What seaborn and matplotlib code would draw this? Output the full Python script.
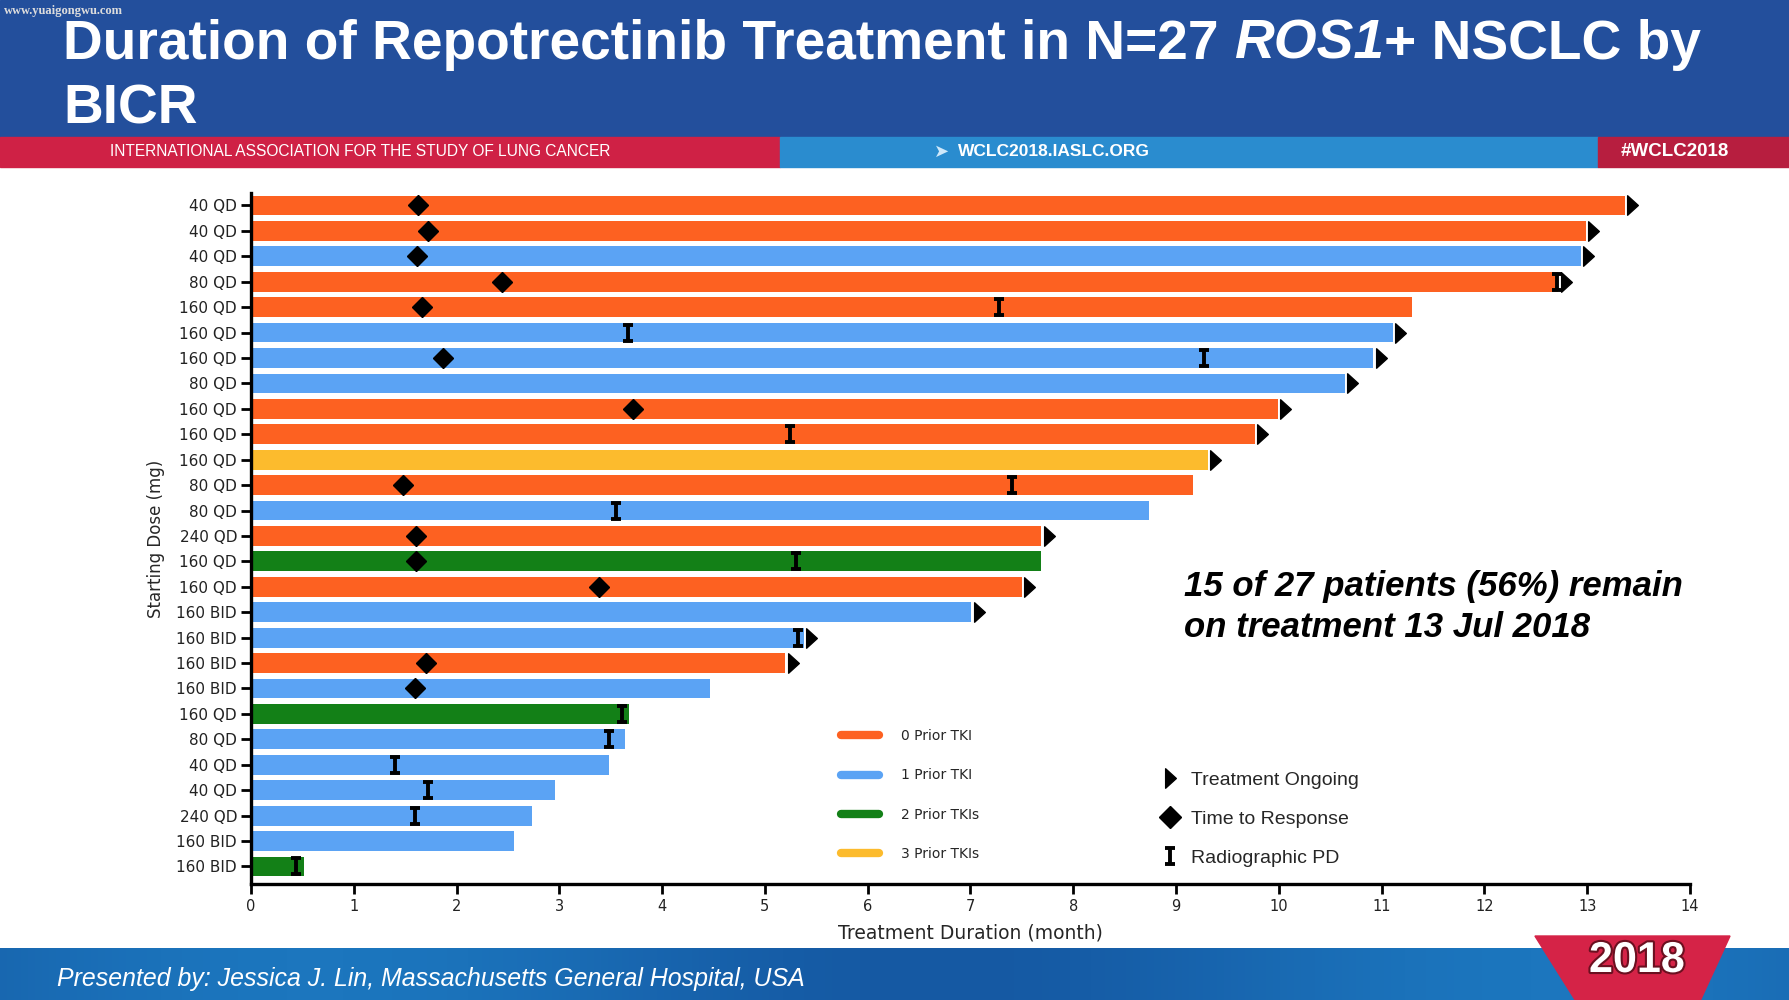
import numpy as np
import pandas as pd
import matplotlib.pyplot as plt
import seaborn as sns
from matplotlib.path import Path
from matplotlib.patches import Rectangle, Polygon
from matplotlib.lines import Line2D
import matplotlib.patheffects as pe


# values, top row first
doses = ["40 QD", "40 QD", "40 QD", "80 QD", "160 QD", "160 QD", "160 QD", "80 QD",
         "160 QD", "160 QD", "160 QD", "80 QD", "80 QD", "240 QD", "160 QD", "160 QD",
         "160 BID", "160 BID", "160 BID", "160 BID", "160 QD", "80 QD", "40 QD", "40 QD",
         "240 QD", "160 BID", "160 BID"]
prior_tki = [0, 0, 1, 0, 0, 1, 1, 1, 0, 0, 3, 0, 1, 0, 2, 0, 1, 1, 0, 1, 2, 1, 1, 1, 1, 1, 2]
duration = [13.37, 12.99, 12.94, 12.72, 11.30, 11.11, 10.92, 10.64, 9.99, 9.77, 9.31, 9.17,
            8.74, 7.69, 7.69, 7.50, 7.01, 5.38, 5.20, 4.47, 3.68, 3.64, 3.48, 2.96, 2.73,
            2.56, 0.52]
ongoing = [1, 1, 1, 1, 0, 1, 1, 1, 1, 1, 1, 0, 0, 1, 0, 1, 1, 1, 1, 0, 0, 0, 0, 0, 0, 0, 0]
nan = np.nan
response = [1.63, 1.72, 1.62, 2.44, 1.66, nan, 1.87, nan, 3.72, nan, nan, 1.48, nan, 1.61,
            1.61, 3.39, nan, nan, 1.70, 1.60, nan, nan, nan, nan, nan, nan, nan]
progression = [nan, nan, nan, 12.71, 7.28, 3.67, 9.27, nan, nan, 5.24, nan, 7.40, 3.55, nan,
               5.30, nan, nan, 5.32, nan, nan, 3.61, 3.48, 1.40, 1.72, 1.60, nan, 0.44]

prior_labels = ["0 Prior TKI", "1 Prior TKI", "2 Prior TKIs", "3 Prior TKIs"]
prior_colors = ["#FD6121", "#5BA3F4", "#138017", "#FCBB2D"]
xticks = list(range(0, 15))


sns.set_theme(style="ticks")
plt.rcParams["font.family"] = ["Liberation Sans", "DejaVu Sans"]

df = pd.DataFrame({
    "row": range(len(doses)),
    "prior": [prior_labels[p] for p in prior_tki],
    "duration": duration,
    "ongoing": ongoing,
    "response": response,
    "progression": progression,
})

fig = plt.figure(figsize=(17.9, 10), dpi=100)
fig.patch.set_facecolor("white")

# slide header / footer
fig.add_artist(Rectangle((0, 0.863), 1, 0.137, transform=fig.transFigure, color="#234F9C", zorder=0))
fig.add_artist(Rectangle((0, 0.833), 0.4358, 0.030, transform=fig.transFigure, color="#CF2145", zorder=0))
fig.add_artist(Rectangle((0.4358, 0.833), 0.4570, 0.030, transform=fig.transFigure, color="#2A8CCF", zorder=0))
fig.add_artist(Rectangle((0.8928, 0.833), 0.1072, 0.030, transform=fig.transFigure, color="#B71E3F", zorder=0))

fax = fig.add_axes([0, 0, 1, 0.052])
grad = np.linspace(0, 1, 256)
grad = 0.5 + 0.5 * np.sin(grad * 9)
fax.imshow(grad[None, :], aspect="auto", cmap=sns.blend_palette(["#1559A3", "#1C76BE"], as_cmap=True),
           extent=(0, 1, 0, 1))
fax.set_axis_off()

fig.add_artist(Polygon([(0.8575, 0.064), (0.9665, 0.064), (0.950, 0.0), (0.880, 0.0)],
                       closed=True, transform=fig.transFigure, color="#D52347", zorder=3))
fig.text(0.9145, 0.039, "2018", color="white", fontsize=31, weight="bold", ha="center", va="center",
         zorder=4, path_effects=[pe.withStroke(linewidth=3, foreground="#6b1020")])

fig.text(4 / 1790, 1 - 11 / 1000, "www.yuaigongwu.com", color="#dddddd", fontsize=9, weight="bold",
         family="Liberation Serif", va="center")

t1 = fig.text(63 / 1790, 1 - 59 / 1000, "Duration of Repotrectinib Treatment in N=27",
              fontsize=39.7, weight="bold", color="white", va="baseline")
fig.text(63 / 1790, 1 - 123 / 1000, "BICR", fontsize=39.7, weight="bold", color="white", va="baseline")

fig.text(110 / 1790, 1 - 152 / 1000, "INTERNATIONAL ASSOCIATION FOR THE STUDY OF LUNG CANCER",
         color="white", fontsize=11.2, va="center")
fig.text(934 / 1790, 1 - 152 / 1000, "\u27a4", color="#cfe8fa", fontsize=13, family="DejaVu Sans",
         va="center")
fig.text(958 / 1790, 1 - 152 / 1000, "WCLC2018.IASLC.ORG", color="white", fontsize=12.5, weight="bold",
         va="center")
fig.text(1621 / 1790, 1 - 152 / 1000, "#WCLC2018", color="white", fontsize=13.5, weight="bold",
         va="center")

fig.text(57 / 1790, 1 - 979 / 1000, "Presented by: Jessica J. Lin, Massachusetts General Hospital, USA",
         color="white", fontsize=17.9, style="italic", va="center")

# chart
ax = fig.add_axes([0.1402, 0.116, 0.8039, 0.691])
sns.barplot(data=df, x="duration", y="row", hue="prior", hue_order=prior_labels, palette=prior_colors,
            orient="h", dodge=False, width=0.78, errorbar=None, legend=False, saturation=1,
            linewidth=0, ax=ax)

tri = Path([(-0.5, -1), (0.6, 0), (-0.5, 1), (-0.5, -1)],
           [Path.MOVETO, Path.LINETO, Path.LINETO, Path.CLOSEPOLY])
ibeam = Path([(-0.6, 1), (0.6, 1), (0, 1), (0, -1), (-0.6, -1), (0.6, -1)],
             [Path.MOVETO, Path.LINETO, Path.MOVETO, Path.LINETO, Path.MOVETO, Path.LINETO])

on = df[df["ongoing"] == 1]
ax.plot(on["duration"] + 0.07, on["row"], linestyle="none", marker=tri, ms=14, color="black", zorder=5)
ax.plot(df["response"], df["row"], linestyle="none", marker="D", ms=10, color="black", zorder=5)
ax.plot(df["progression"], df["row"], linestyle="none", marker=ibeam, ms=12, mfc="none", mec="black",
        mew=2.8, zorder=6)

ax.set_xlim(0, 14)
ax.set_xticks(xticks)
ax.set_ylim(26.69, -0.49)
ax.set_yticks(range(len(doses)))
ax.set_yticklabels(doses)
for lab in ax.get_yticklabels() + ax.get_xticklabels():
    lab.set_family("DejaVu Sans")
    lab.set_color("#222222")
ax.tick_params(axis="both", direction="out", length=7, width=2, color="black", labelsize=10.5)
ax.tick_params(axis="y", labelsize=11, pad=3)
sns.despine(ax=ax)
for s in ["left", "bottom"]:
    ax.spines[s].set_linewidth(2.4)
    ax.spines[s].set_color("black")
ax.set_xlabel("Treatment Duration (month)", fontsize=13.5, family="DejaVu Sans", labelpad=7)
ax.set_ylabel("Starting Dose (mg)", fontsize=12, family="DejaVu Sans", labelpad=8)

fig.text(1184 / 1790, 0.393, "15 of 27 patients (56%) remain\non treatment 13 Jul 2018",
         fontsize=25, weight="bold", style="italic", color="black", ha="left", va="center",
         linespacing=1.32)

color_handles = [Line2D([0], [0], color=c, lw=6) for c in prior_colors]
leg1 = fig.legend(color_handles, prior_labels, loc="upper left", bbox_to_anchor=(0.470, 0.271),
                  bbox_transform=fig.transFigure, frameon=False, borderpad=0, borderaxespad=0,
                  handlelength=2.7, handletextpad=1.6, labelspacing=1.83,
                  prop={"family": "DejaVu Sans", "size": 10})

mark_handles = [Line2D([0], [0], linestyle="none", marker=tri, ms=14, color="black"),
                Line2D([0], [0], linestyle="none", marker="D", ms=11, color="black"),
                Line2D([0], [0], linestyle="none", marker=ibeam, ms=12, mfc="none", mec="black", mew=2.8)]
leg2 = fig.legend(mark_handles, ["Treatment Ongoing", "Time to Response", "Radiographic PD"],
                  loc="upper left", bbox_to_anchor=(0.648, 0.229), bbox_transform=fig.transFigure,
                  frameon=False, borderpad=0, borderaxespad=0, handlelength=1.0, handletextpad=0.6,
                  labelspacing=1.1, prop={"family": "Liberation Sans", "size": 14})

# title pieces with italic ROS1
t2 = ax.annotate("ROS1", xy=(1, 0), xycoords=t1, xytext=(11, 0), textcoords="offset points",
                 fontsize=39.7, weight="bold", style="italic", color="white", va="bottom",
                 annotation_clip=False)
ax.annotate("+ NSCLC by", xy=(1, 0), xycoords=t2, fontsize=39.7, weight="bold", color="white",
            va="bottom", annotation_clip=False)

fig.savefig("out.png", dpi=100)
